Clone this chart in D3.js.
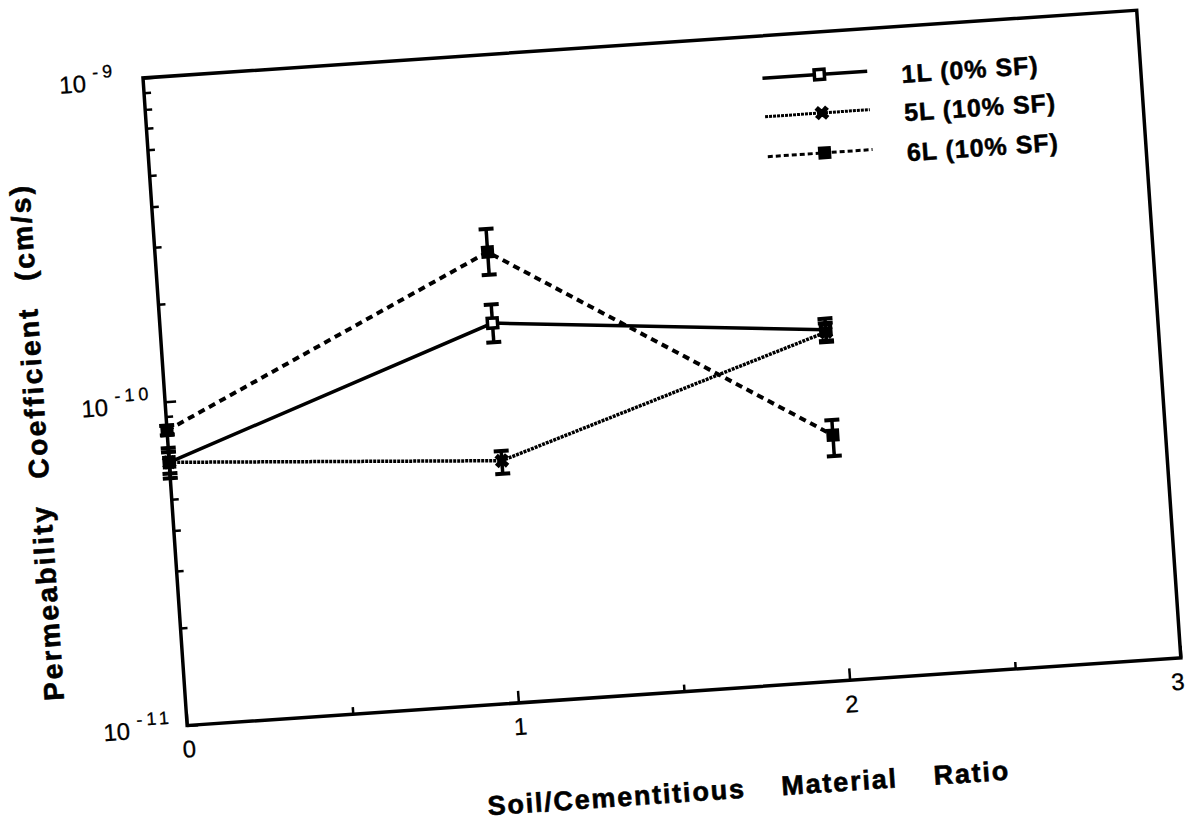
<!DOCTYPE html>
<html>
<head>
<meta charset="utf-8">
<script src="https://cdn.jsdelivr.net/npm/d3@7"></script>
<style>
  html, body { margin: 0; padding: 0; background: #fff; }
  svg { display: block; }
  text { font-family: "Liberation Sans", Arial, Helvetica, sans-serif; fill: #000; }
</style>
</head>
<body>
<svg id="chart" width="1186" height="824"></svg>
<script>
// Soil/cementitious material ratio (x) and permeability coefficient in cm/s (y)
const ratios = [0, 1, 2];
const seriesNames = ["1L (0% SF)", "5L (10% SF)", "6L (10% SF)"];

const k1L     = [6.5e-11, 1.49e-10, 1.21e-10];
const k1LLow  = [5.8e-11, 1.30e-10, 1.11e-10];
const k1LHigh = [7.2e-11, 1.70e-10, 1.31e-10];

const k5L     = [6.5e-11, 5.6e-11, 1.19e-10];
const k5LLow  = [6.0e-11, 5.1e-11, 1.12e-10];
const k5LHigh = [7.0e-11, 6.0e-11, 1.27e-10];

const k6L     = [8.15e-11, 2.47e-10, 5.72e-11];
const k6LLow  = [7.9e-11, 2.10e-10, 4.93e-11];
const k6LHigh = [8.45e-11, 2.91e-10, 6.37e-11];

const xTickValues = [0, 1, 2, 3];
const xMinorValues = [0.5, 1.5, 2.5];
const yDecadeExponents = [-11, -10, -9];
const yMinorMantissas = [2, 3, 4, 5, 6, 7, 8, 9];

const xTitleWords = ["Soil/Cementitious", "Material", "Ratio"];
const yTitleWords = ["Permeability", "Coefficient", "(cm/s)"];

// ---------------------------------------------------------------
const W = 996, H = 649;
const svg = d3.select("#chart");
// the whole plot sits slightly tilted on the page
const g = svg.append("g").attr("transform", "translate(143,78) rotate(-3.9)");

const x = d3.scaleLinear().domain([0, 3]).range([0, W]);
const y = d3.scaleLog().domain([1e-11, 1e-9]).range([H, 0]);

// frame
g.append("rect")
  .attr("x", 0).attr("y", 0).attr("width", W).attr("height", H)
  .attr("fill", "none").attr("stroke", "#000").attr("stroke-width", 3.5);

// x axis: major ticks with labels, minor ticks without
const xAxis = d3.axisBottom(x).tickValues(xTickValues)
  .tickSizeInner(-12).tickSizeOuter(0).tickPadding(15)
  .tickFormat(d3.format("d"));
const gx = g.append("g").attr("transform", `translate(0,${H})`).call(xAxis);
gx.select(".domain").remove();
gx.selectAll(".tick line").attr("stroke", "#000").attr("stroke-width", 2.5);
gx.selectAll(".tick text").attr("font-size", 24).attr("font-family", null)
  .attr("stroke", "#000").attr("stroke-width", 0.3)
  .attr("dx", d => d === 3 ? -5 : 0);

const gxm = g.append("g").attr("transform", `translate(0,${H})`)
  .call(d3.axisBottom(x).tickValues(xMinorValues).tickSizeInner(-7).tickSizeOuter(0).tickFormat(""));
gxm.select(".domain").remove();
gxm.selectAll(".tick line").attr("stroke", "#000").attr("stroke-width", 2.5);

// y axis: decade ticks and minor ticks, pointing inward
const yMinor = [];
yDecadeExponents.slice(0, -1).forEach(e => yMinorMantissas.forEach(m => yMinor.push(m * Math.pow(10, e))));
const gy = g.append("g")
  .call(d3.axisLeft(y).tickValues(yDecadeExponents.map(e => Math.pow(10, e)))
    .tickSizeInner(-11).tickSizeOuter(0).tickFormat(""));
gy.select(".domain").remove();
gy.selectAll(".tick line").attr("stroke", "#000").attr("stroke-width", 2.5);
const gym = g.append("g")
  .call(d3.axisLeft(y).tickValues(yMinor).tickSizeInner(-7).tickSizeOuter(0).tickFormat(""));
gym.select(".domain").remove();
gym.selectAll(".tick line").attr("stroke", "#000").attr("stroke-width", 2.5);

// y tick labels as powers of ten
yDecadeExponents.forEach(e => {
  const t = g.append("text")
    .attr("x", -84).attr("y", y(Math.pow(10, e)) + 10)
    .attr("font-size", 24)
    .attr("stroke", "#000").attr("stroke-width", 0.3);
  t.append("tspan").text("10");
  t.append("tspan").attr("dx", 7).attr("dy", -13).attr("font-size", 18)
    .attr("letter-spacing", 4).text("-" + Math.abs(e));
});

// axis titles
const xt = g.append("text")
  .attr("x", 556).attr("y", 759)
  .attr("text-anchor", "middle")
  .attr("font-size", 27).attr("font-weight", "bold").attr("letter-spacing", 1.8)
  .attr("stroke", "#000").attr("stroke-width", 0.6);
xTitleWords.forEach((w, i) => xt.append("tspan").attr("dx", i ? 36 : 0).text(w));

const yt = g.append("text")
  .attr("transform", "translate(-121,356) rotate(-90)")
  .attr("text-anchor", "middle")
  .attr("font-size", 28).attr("font-weight", "bold").attr("letter-spacing", 2.5)
  .attr("stroke", "#000").attr("stroke-width", 0.6);
yTitleWords.forEach((w, i) => yt.append("tspan").attr("dx", i ? 26 : 0).text(w));

// ---------------------------------------------------------------
// series
const styles = [
  { dash: null,  width: 3.5, marker: "open" },
  { dash: "3,1", width: 3.5, marker: "cross" },
  { dash: "7,5", width: 4,   marker: "filled" }
];
const series = [
  { name: seriesNames[0], k: k1L, lo: k1LLow, hi: k1LHigh },
  { name: seriesNames[1], k: k5L, lo: k5LLow, hi: k5LHigh },
  { name: seriesNames[2], k: k6L, lo: k6LLow, hi: k6LHigh }
];

const line = d3.line().x(d => x(d.r)).y(d => y(d.k));

function drawMarker(sel, kind) {
  if (kind === "open") {
    sel.append("rect").attr("x", -5).attr("y", -5).attr("width", 10).attr("height", 10)
      .attr("fill", "#fff").attr("stroke", "#000").attr("stroke-width", 3.5);
  } else if (kind === "filled") {
    sel.append("rect").attr("x", -6.5).attr("y", -6.5).attr("width", 13).attr("height", 13)
      .attr("fill", "#000");
  } else {
    sel.append("path").attr("d", d3.symbol(d3.symbolCross, 130)())
      .attr("transform", "rotate(45)").attr("fill", "#000");
    sel.append("circle").attr("r", 4).attr("fill", "#000");
  }
}

series.forEach((s, si) => {
  const st = styles[si];
  const pts = ratios.map((r, i) => ({ r, k: s.k[i], lo: s.lo[i], hi: s.hi[i] }));
  const sg = g.append("g");

  sg.append("path").datum(pts)
    .attr("d", line).attr("fill", "none").attr("stroke", "#000")
    .attr("stroke-width", st.width)
    .attr("stroke-dasharray", st.dash);

  // error bars
  const eb = sg.selectAll(".eb").data(pts).join("g")
    .attr("transform", d => `translate(${x(d.r)},0)`);
  eb.append("line").attr("x1", 0).attr("x2", 0)
    .attr("y1", d => y(d.lo)).attr("y2", d => y(d.hi))
    .attr("stroke", "#000").attr("stroke-width", 3.5);
  ["lo", "hi"].forEach(key => {
    eb.append("line").attr("x1", -7.5).attr("x2", 7.5)
      .attr("y1", d => y(d[key])).attr("y2", d => y(d[key]))
      .attr("stroke", "#000").attr("stroke-width", 4);
  });

  sg.selectAll(".mk").data(pts).join("g")
    .attr("transform", d => `translate(${x(d.r)},${y(d.k)})`)
    .each(function () { drawMarker(d3.select(this), st.marker); });
});

// ---------------------------------------------------------------
// legend
const legendRows = [42.5, 81, 121];
series.forEach((s, si) => {
  const st = styles[si];
  const lg = g.append("g").attr("transform", `translate(0,${legendRows[si]})`);
  lg.append("line").attr("x1", 618).attr("x2", 723).attr("y1", 0).attr("y2", 0)
    .attr("stroke", "#000").attr("stroke-width", si === 0 ? 3.5 : 3)
    .attr("stroke-dasharray", si === 2 ? "5,3" : st.dash);
  const m = lg.append("g").attr("transform", "translate(675,0)");
  drawMarker(m, st.marker);
  lg.append("text").attr("x", 757).attr("y", 14)
    .attr("font-size", 25).attr("font-weight", "bold").attr("letter-spacing", 1)
    .attr("stroke", "#000").attr("stroke-width", 0.5)
    .text(s.name);
});
</script>
</body>
</html>
